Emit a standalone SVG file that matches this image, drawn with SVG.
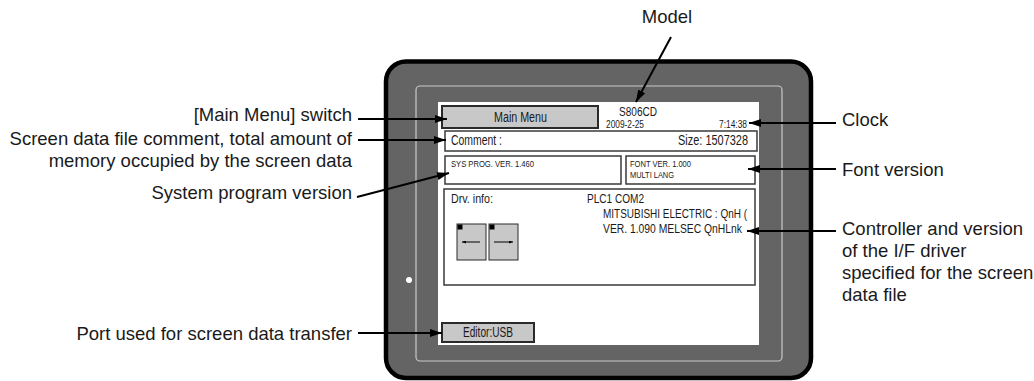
<svg xmlns="http://www.w3.org/2000/svg" width="1034" height="381" viewBox="0 0 1034 381">
<style>
.lbl{font-family:"Liberation Sans",Arial,sans-serif;font-size:18.5px;fill:#1a1a1a}
.scr{font-family:"Liberation Sans Narrow","Liberation Sans",Arial,sans-serif;fill:#1a1a1a}
.box{fill:#ffffff;stroke:#3a3a3a;stroke-width:1.5}
.btn{fill:#c8c8c8;stroke:#2a2a2a;stroke-width:2}
.conn{stroke:#000;stroke-width:2;fill:none}
.small{stroke:#000;stroke-width:1;fill:none}
</style>
<defs>
<marker id="ah" viewBox="0 0 12 8" refX="12" refY="4" markerWidth="12" markerHeight="8" orient="auto" markerUnits="userSpaceOnUse">
<path d="M0,0 L12,4 L0,8 z" fill="#000"/>
</marker>
<marker id="sa" viewBox="0 0 4 3" refX="4" refY="1.5" markerWidth="4" markerHeight="3" orient="auto" markerUnits="userSpaceOnUse">
<path d="M0,0 L4,1.5 L0,3 z" fill="#000"/>
</marker>
</defs>
<rect width="1034" height="381" fill="#ffffff"/>

<g id="panel">
<rect x="386" y="61.5" width="425" height="316.5" rx="20" ry="20" fill="#646464" stroke="#000" stroke-width="4.5"/>
<rect x="416" y="86" width="366" height="275" rx="4" ry="4" fill="none" stroke="#c8c8c8" stroke-width="1.2"/>
<circle cx="409" cy="280" r="3" fill="#ffffff"/>
<rect x="438" y="102" width="321" height="243" fill="#ffffff"/>
</g>

<g id="main-menu">
<rect class="btn" x="442" y="106" width="156" height="22"/>
<text class="scr" x="494" y="122" font-size="15.5" textLength="53" lengthAdjust="spacingAndGlyphs">Main Menu</text>
</g>

<g id="model-info">
<text class="scr" x="619" y="116" font-size="13.5" textLength="38" lengthAdjust="spacingAndGlyphs">S806CD</text>
<text class="scr" x="606" y="128" font-size="10" textLength="38" lengthAdjust="spacingAndGlyphs">2009-2-25</text>
<text class="scr" x="719" y="128" font-size="10" textLength="28" lengthAdjust="spacingAndGlyphs">7:14:38</text>
</g>

<g id="comment">
<rect class="box" x="445" y="131" width="312" height="20"/>
<text class="scr" x="451" y="145" font-size="15" textLength="51" lengthAdjust="spacingAndGlyphs">Comment :</text>
<text class="scr" x="678" y="145" font-size="15" textLength="70" lengthAdjust="spacingAndGlyphs">Size:  1507328</text>
</g>

<g id="sys-prog">
<rect class="box" x="445" y="156" width="176" height="28"/>
<text class="scr" x="451" y="167" font-size="9.5" textLength="83" lengthAdjust="spacingAndGlyphs">SYS PROG. VER.  1.460</text>
</g>

<g id="font-ver">
<rect class="box" x="626" y="156" width="129" height="28"/>
<text class="scr" x="630" y="167" font-size="9.5" textLength="61" lengthAdjust="spacingAndGlyphs">FONT VER. 1.000</text>
<text class="scr" x="630" y="178" font-size="9.5" textLength="44" lengthAdjust="spacingAndGlyphs">MULTI LANG</text>
</g>

<g id="drv-info">
<rect class="box" x="444" y="189" width="311" height="96"/>
<text class="scr" x="451" y="203" font-size="12.5" textLength="42" lengthAdjust="spacingAndGlyphs">Drv. info:</text>
<text class="scr" x="587" y="203" font-size="12.5" textLength="57" lengthAdjust="spacingAndGlyphs">PLC1 COM2</text>
<text class="scr" x="603" y="218" font-size="12.5" textLength="144" lengthAdjust="spacingAndGlyphs">MITSUBISHI ELECTRIC : QnH (</text>
<text class="scr" x="603" y="233" font-size="12.5" textLength="139" lengthAdjust="spacingAndGlyphs">VER. 1.090  MELSEC QnHLnk</text>
</g>

<g id="page-left">
<rect x="457" y="224" width="29" height="36" fill="#c8c8c8" stroke="#2a2a2a" stroke-width="1"/>
<rect x="457.5" y="224.5" width="5" height="5" fill="#000"/>
<line class="small" x1="480" y1="242" x2="462" y2="242" marker-end="url(#sa)"/>
</g>

<g id="page-right">
<rect x="489" y="224" width="29" height="36" fill="#c8c8c8" stroke="#2a2a2a" stroke-width="1"/>
<rect x="489.5" y="224.5" width="5" height="5" fill="#000"/>
<line class="small" x1="494" y1="242" x2="513" y2="242" marker-end="url(#sa)"/>
</g>

<g id="editor-usb">
<rect class="btn" x="442" y="323" width="92" height="19"/>
<text class="scr" x="463" y="337" font-size="14" textLength="50" lengthAdjust="spacingAndGlyphs">Editor:USB</text>
</g>

<g id="labels">
<text class="lbl" x="667" y="23" text-anchor="middle">Model</text>
<text class="lbl" x="352" y="121" text-anchor="end">[Main Menu] switch</text>
<text class="lbl" x="352" y="145" text-anchor="end">Screen data file comment, total amount of</text>
<text class="lbl" x="352" y="167" text-anchor="end">memory occupied by the screen data</text>
<text class="lbl" x="352" y="199" text-anchor="end">System program version</text>
<text class="lbl" x="352" y="340" text-anchor="end">Port used for screen data transfer</text>
<text class="lbl" x="842" y="126">Clock</text>
<text class="lbl" x="842" y="176">Font version</text>
<text class="lbl" x="842" y="235">Controller and version</text>
<text class="lbl" x="842" y="257">of the I/F driver</text>
<text class="lbl" x="842" y="279">specified for the screen</text>
<text class="lbl" x="842" y="301">data file</text>
</g>

<g id="connectors">
<line class="conn" x1="671" y1="37" x2="636" y2="102" marker-end="url(#ah)"/>
<line class="conn" x1="358" y1="119" x2="447" y2="119" marker-end="url(#ah)"/>
<line class="conn" x1="358" y1="140" x2="446" y2="140" marker-end="url(#ah)"/>
<line class="conn" x1="357" y1="197" x2="449" y2="173" marker-end="url(#ah)"/>
<line class="conn" x1="358" y1="333" x2="442" y2="333" marker-end="url(#ah)"/>
<line class="conn" x1="836" y1="123" x2="749" y2="123" marker-end="url(#ah)"/>
<line class="conn" x1="836" y1="169" x2="748" y2="169" marker-end="url(#ah)"/>
<line class="conn" x1="836" y1="231" x2="747" y2="231" marker-end="url(#ah)"/>
</g>
</svg>
